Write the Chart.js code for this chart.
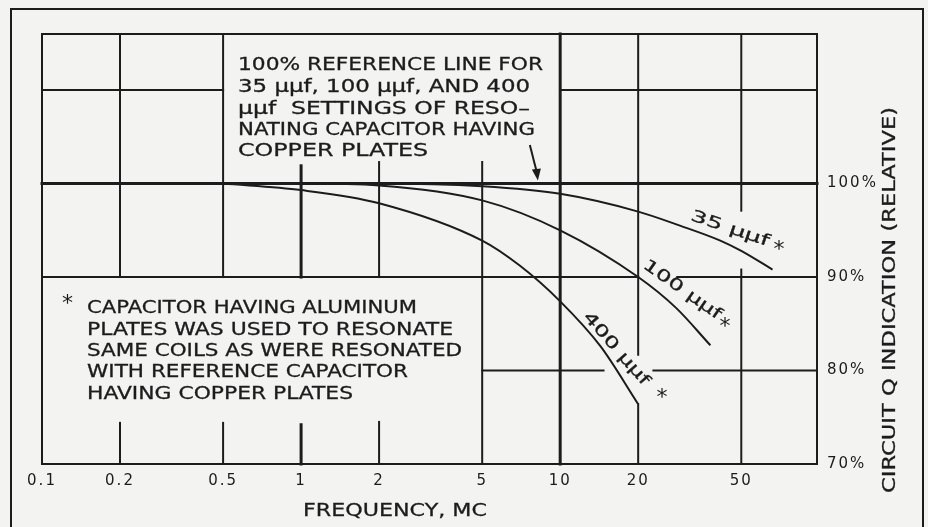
<!DOCTYPE html>
<html>
<head>
<meta charset="utf-8">
<script src="https://cdn.jsdelivr.net/npm/chart.js@4.4.1/dist/chart.umd.min.js"></script>
<style>
  body { margin: 0; background: #f3f3f1; }
  canvas { display: block; }
</style>
</head>
<body>
<canvas id="qChart" width="928" height="527"></canvas>
<script>
// frequency axis (MC) and Q axis (%)
const freqTicks = [0.1, 0.2, 0.5, 1, 2, 5, 10, 20, 50];
const freqLabels = ['0.1', '0.2', '0.5', '1', '2', '5', '10', '20', '50'];
const qTicks = [70, 80, 90, 100];

// 35 uuf curve
const freq35 = [0.5, 2, 5, 10, 20, 29, 41.5, 50, 66];
const q35 = [100, 100, 99.7, 98.9, 97.0, 95.5, 93.9, 92.8, 90.8];
// 100 uuf curve
const freq100 = [0.5, 1, 2, 5, 10, 20, 28, 38];
const q100 = [100, 100, 99.8, 98.2, 95.0, 90.0, 86.7, 82.7];
// 400 uuf curve
const freq400 = [0.5, 1, 2, 5, 7, 10, 14.3, 20];
const q400 = [100, 99.3, 97.9, 93.9, 91.2, 87.4, 82.6, 76.4];

const ink = '#1c1c1c';
const font = 'DejaVu Sans';

// grid pieces (the drawing leaves gaps around the notes and labels)
// [f1, q1, f2, q2, lineWidth]
const gridPieces = [
    [0.1, 116, 98, 116, 2], [0.1, 70, 98, 70, 2],
    [0.1, 116, 0.1, 70, 2], [98, 116, 98, 70, 2],
    [0.2, 116, 0.2, 90, 2], [0.2, 74.4, 0.2, 70, 2],
    [0.5, 116, 0.5, 90, 2], [0.5, 74.4, 0.5, 70, 2],
    [1, 101.9, 1, 90, 3], [1, 74.2, 1, 70, 3],
    [2, 102.3, 2, 90, 2], [2, 74.5, 2, 70, 2],
    [5, 102.3, 5, 70, 2],
    [10, 116, 10, 70, 3],
    [20, 116, 20, 81.7, 2], [20, 76.4, 20, 70, 2],
    [50, 116, 50, 97.1, 2], [50, 90.8, 50, 70, 2],
    [0.1, 110, 0.5, 110, 2], [10, 110, 98, 110, 2],
    [0.1, 100, 98, 100, 3],
    [0.1, 90, 20, 90, 2], [28.3, 90, 98, 90, 2],
    [5, 80, 14.7, 80, 2], [22.9, 80, 98, 80, 2]
];

function toPoints(xs, ys) {
    return xs.map((x, i) => ({x: x, y: ys[i]}));
}

// draws text squeezed/stretched to a given width, a bit heavier like pen lettering
function fitText(ctx, text, x, y, width) {
    const w = ctx.measureText(text).width;
    ctx.save();
    ctx.translate(x, y);
    ctx.scale(width / w, 1);
    ctx.fillText(text, 0, 0);
    ctx.strokeText(text, 0, 0);
    ctx.restore();
}

function rotText(ctx, text, cx, cy, angle, width) {
    ctx.save();
    ctx.translate(cx, cy);
    ctx.rotate(angle);
    const w = ctx.measureText(text).width;
    ctx.scale(width / w, 1);
    ctx.textAlign = 'center';
    ctx.fillText(text, 0, 0);
    ctx.strokeText(text, 0, 0);
    ctx.restore();
}

const paper = {
    id: 'paper',
    beforeDraw(chart) {
        const ctx = chart.ctx;
        ctx.save();
        ctx.fillStyle = '#f3f3f1';
        ctx.fillRect(0, 0, chart.width, chart.height);
        ctx.strokeStyle = ink;
        ctx.lineWidth = 2;
        ctx.strokeRect(11, 9, 912, 600);
        ctx.restore();
        ctx.letterSpacing = '2px';
    },
    beforeDatasetsDraw(chart) {
        const ctx = chart.ctx;
        const xs = chart.scales.x, ys = chart.scales.y;
        ctx.save();
        ctx.letterSpacing = '0px';
        ctx.strokeStyle = ink;
        ctx.lineCap = 'square';
        gridPieces.forEach(p => {
            ctx.lineWidth = p[4];
            ctx.beginPath();
            ctx.moveTo(xs.getPixelForValue(p[0]), ys.getPixelForValue(p[1]));
            ctx.lineTo(xs.getPixelForValue(p[2]), ys.getPixelForValue(p[3]));
            ctx.stroke();
        });
        ctx.restore();
    },
    afterDraw(chart) {
        const ctx = chart.ctx;
        const xs = chart.scales.x, ys = chart.scales.y;
        ctx.save();
        ctx.letterSpacing = '0px';
        ctx.fillStyle = ink;
        ctx.strokeStyle = ink;
        ctx.lineWidth = 0.3;
        ctx.textBaseline = 'middle';
        ctx.textAlign = 'left';

        // reference line note
        ctx.font = '17px "' + font + '"';
        fitText(ctx, '100% REFERENCE LINE FOR', 238, 66, 305);
        fitText(ctx, '35 μμf, 100 μμf, AND 400', 238, 88, 292);
        fitText(ctx, 'μμf  SETTINGS OF RESO–', 238, 110, 292);
        fitText(ctx, 'NATING CAPACITOR HAVING', 238, 131, 297);
        fitText(ctx, 'COPPER PLATES', 238, 152, 190);

        // arrow to the 100% line
        const tipX = xs.getPixelForValue(8.2), tipY = ys.getPixelForValue(100) - 3;
        ctx.lineWidth = 2;
        ctx.beginPath();
        ctx.moveTo(tipX - 8, 145);
        ctx.lineTo(tipX - 1, tipY - 8);
        ctx.stroke();
        ctx.beginPath();
        ctx.moveTo(tipX, tipY);
        ctx.lineTo(tipX - 6, tipY - 11);
        ctx.lineTo(tipX + 3, tipY - 12);
        ctx.closePath();
        ctx.fill();
        ctx.lineWidth = 0.3;

        // aluminium note
        ctx.font = '22px "' + font + '"';
        ctx.fillText('*', 62, 304);
        ctx.font = '17px "' + font + '"';
        fitText(ctx, 'CAPACITOR HAVING ALUMINUM', 87, 309, 330);
        fitText(ctx, 'PLATES WAS USED TO RESONATE', 87, 331, 366);
        fitText(ctx, 'SAME COILS AS WERE RESONATED', 87, 352, 375);
        fitText(ctx, 'WITH REFERENCE CAPACITOR', 87, 373, 321);
        fitText(ctx, 'HAVING COPPER PLATES', 87, 395, 266);

        // curve labels
        ctx.font = '16px "' + font + '"';
        rotText(ctx, '35 μμf', 730, 229, 0.33, 82);
        rotText(ctx, '100 μμf', 682, 290, 0.61, 92);
        rotText(ctx, '400 μμf', 616, 349, 0.85, 92);
        ctx.font = '22px "' + font + '"';
        ctx.textAlign = 'center';
        ctx.fillText('*', 779, 250);
        ctx.fillText('*', 725, 327);
        ctx.fillText('*', 662, 398);

        // axis titles
        ctx.textAlign = 'left';
        ctx.font = '18px "' + font + '"';
        fitText(ctx, 'FREQUENCY, MC', 303, 511, 184);
        ctx.save();
        ctx.translate(890, 300);
        ctx.rotate(-Math.PI / 2);
        fitText(ctx, 'CIRCUIT Q INDICATION (RELATIVE)', -193, 0, 386);
        ctx.restore();
        ctx.restore();
    }
};

new Chart('qChart', {
    type: 'line',
    data: {
        datasets: [{
            data: toPoints(freq35, q35),
            borderColor: ink,
            borderWidth: 2,
            pointRadius: 0,
            cubicInterpolationMode: 'monotone',
            fill: false
        }, {
            data: toPoints(freq100, q100),
            borderColor: ink,
            borderWidth: 2,
            pointRadius: 0,
            cubicInterpolationMode: 'monotone',
            fill: false
        }, {
            data: toPoints(freq400, q400),
            borderColor: ink,
            borderWidth: 2,
            pointRadius: 0,
            cubicInterpolationMode: 'monotone',
            fill: false
        }]
    },
    options: {
        responsive: false,
        animation: false,
        layout: {padding: {left: 42, top: 34, right: 0, bottom: 0}},
        plugins: {legend: {display: false}, tooltip: {enabled: false}},
        scales: {
            x: {
                type: 'logarithmic',
                min: 0.1,
                max: 98,
                position: 'bottom',
                grid: {display: false, drawTicks: false},
                border: {display: false},
                afterBuildTicks: s => { s.ticks = freqTicks.map(v => ({value: v})); },
                afterFit: s => { s.height = 63; },
                ticks: {
                    autoSkip: false,
                    maxRotation: 0,
                    padding: 8,
                    color: ink,
                    font: {family: font, size: 15},
                    callback: (v, i) => freqLabels[i]
                }
            },
            y: {
                type: 'linear',
                min: 70,
                max: 116,
                position: 'right',
                grid: {display: false, drawTicks: false},
                border: {display: false},
                afterBuildTicks: s => { s.ticks = qTicks.map(v => ({value: v})); },
                afterFit: s => { s.width = 111; },
                ticks: {
                    padding: 10,
                    color: ink,
                    font: {family: font, size: 15},
                    callback: v => v + '%'
                }
            }
        }
    },
    plugins: [paper]
});
</script>
</body>
</html>
